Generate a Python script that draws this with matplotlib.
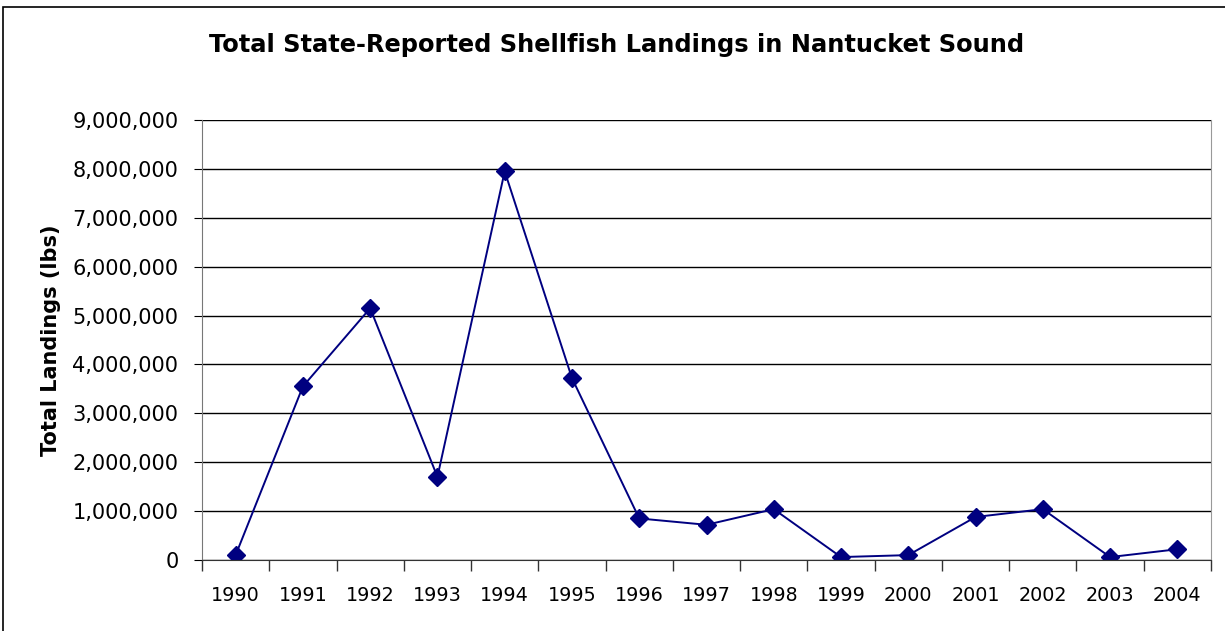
import matplotlib.pyplot as plt
import numpy as np
from matplotlib.ticker import FuncFormatter, FixedLocator
from matplotlib.patches import Rectangle

years = ['1990', '1991', '1992', '1993', '1994', '1995', '1996', '1997',
         '1998', '1999', '2000', '2001', '2002', '2003', '2004']
landings = [100000, 3550000, 5150000, 1700000, 7950000, 3720000, 850000,
            720000, 1040000, 60000, 100000, 880000, 1040000, 60000, 220000]

fig = plt.figure(figsize=(12.25, 6.31), dpi=100)
ax = fig.add_axes([202 / 1225, 1 - 560 / 631, 1009 / 1225, 440 / 631])

# border around the whole chart
fig.patches.append(Rectangle((3 / 1225, -0.1), 1.2, 1 - 7 / 631 + 0.1,
                             transform=fig.transFigure, fill=False,
                             edgecolor='black', linewidth=1.2))

x = np.arange(len(years))
ax.plot(x, landings, color='#000080', linewidth=1.4, marker='D',
        markersize=9.5, markerfacecolor='#000080', markeredgecolor='#000080')

ax.set_xlim(-0.5, len(years) - 0.5)
ax.set_ylim(0, 9000000)
ax.set_yticks(np.arange(0, 9000001, 1000000))
ax.yaxis.set_major_formatter(FuncFormatter(lambda v, p: f'{int(v):,}'))
ax.yaxis.grid(True, color='black', linewidth=1)
ax.set_axisbelow(True)

ax.set_xticks(x)
ax.set_xticklabels(years)
ax.xaxis.set_minor_locator(FixedLocator(np.arange(-0.5, len(years), 1)))
ax.tick_params(axis='x', which='major', length=0, pad=19, labelsize=13.8)
ax.tick_params(axis='x', which='minor', length=8, width=1, color='#333333')
ax.tick_params(axis='y', length=6, labelsize=15, pad=11)

ax.spines['top'].set_visible(False)
ax.spines['right'].set_color('#999999')
ax.spines['left'].set_color('#777777')
ax.spines['bottom'].set_color('#333333')

ax.set_ylabel('Total Landings (lbs)', fontsize=15, fontweight='bold', labelpad=8)
fig.text(617 / 1225, 1 - 45 / 631, 'Total State-Reported Shellfish Landings in Nantucket Sound',
         ha='center', va='center', fontsize=17.4, fontweight='bold')

fig.savefig('out.png', dpi=100)
